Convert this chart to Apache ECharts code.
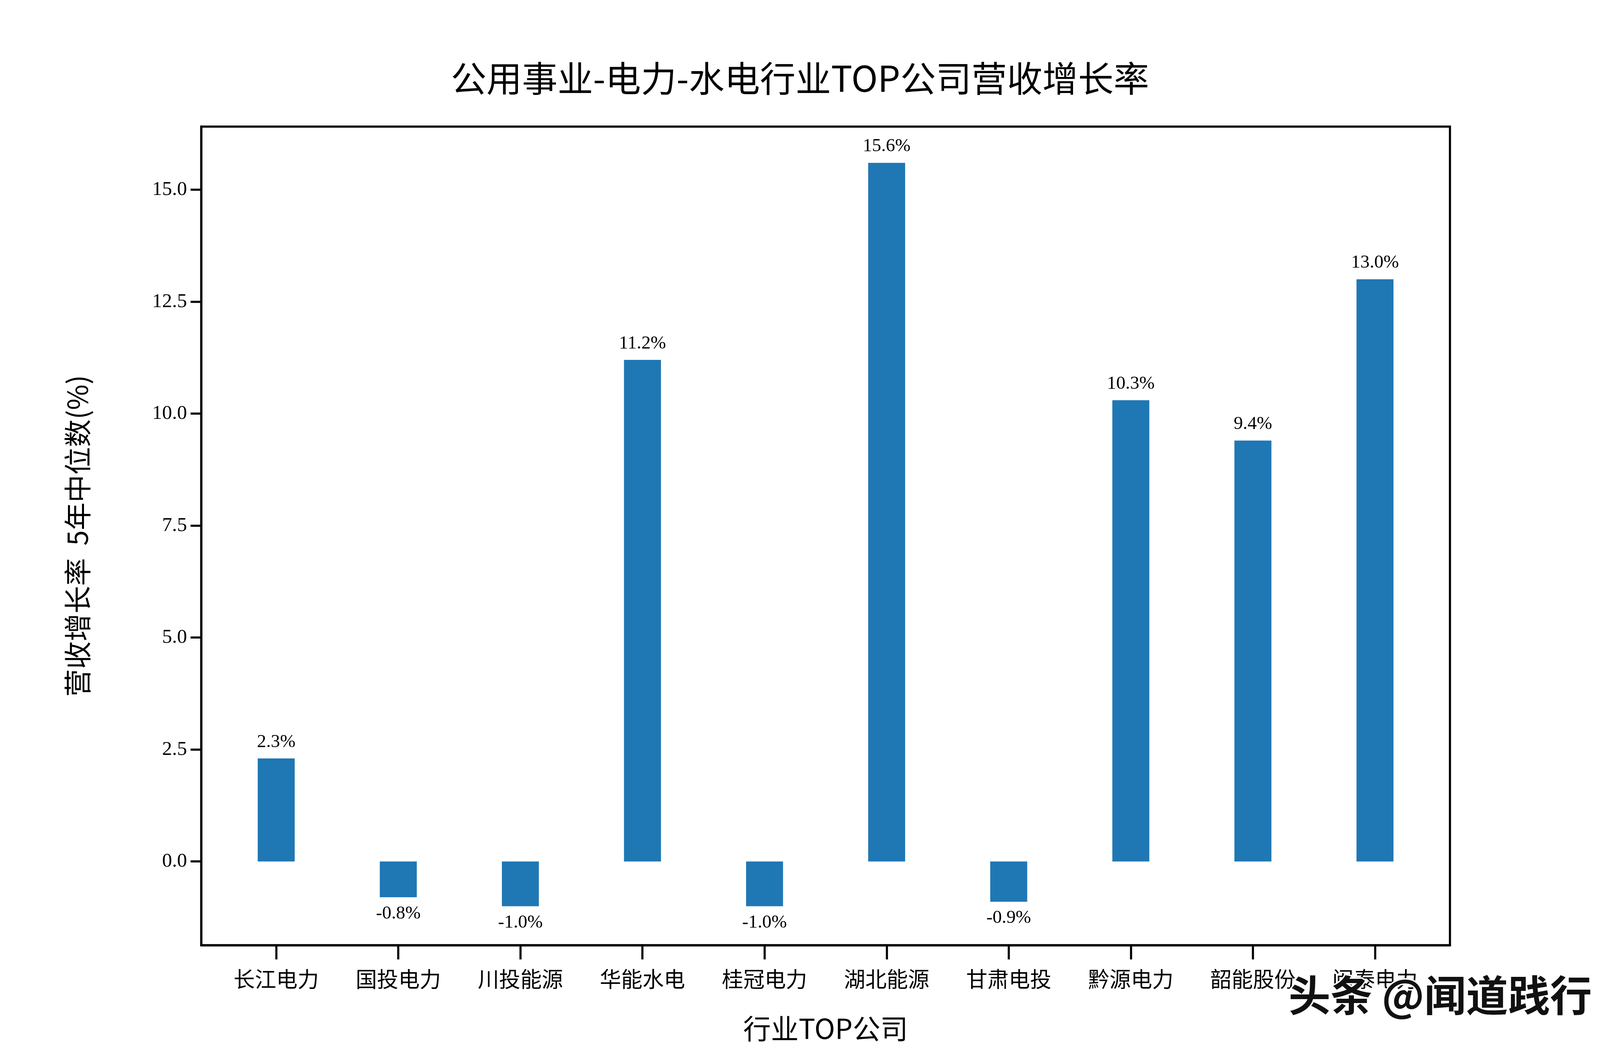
<!DOCTYPE html>
<html><head><meta charset="utf-8">
<script src="https://cdn.jsdelivr.net/npm/echarts@6/dist/echarts.min.js"></script>
<style>html,body{margin:0;padding:0;background:#fff;overflow:hidden}#c{width:100vw;height:100vh}</style>
</head><body><div id="c"></div>
<script>
var categories = ['长江电力','国投电力','川投能源','华能水电','桂冠电力','湖北能源','甘肃电投','黔源电力','韶能股份','闽泰电力'];
var values = [2.3, -0.8, -1.0, 11.2, -1.0, 15.6, -0.9, 10.3, 9.4, 13.0];
var yTicks = [0, 2.5, 5, 7.5, 10, 12.5, 15];

var chart = echarts.init(document.getElementById('c'));
var W = chart.getWidth(), H = chart.getHeight();
var sx = W / 4500, sy = H / 2700, s = Math.min(sx, sy);
var sfont = '"Liberation Serif","DejaVu Serif","Noto Sans CJK SC",serif';
var cfont = '"Noto Sans CJK SC",sans-serif';
var idx = categories.map(function(c, i){ return i; });
var gl = 566 * sx, gr = 4078 * sx, gt = 324 * sy, gb = 2419 * sy;
var lineSt = {color: '#000', width: 6 * s};

chart.setOption({
    animation: false,
    title: {
        text: '公用事业-电力-水电行业TOP公司营收增长率',
        left: 'center', top: 150 * sy,
        textStyle: {fontFamily: cfont, fontSize: 100 * s, fontWeight: 'normal', color: '#000'}
    },
    grid: {left: gl, right: W - gr, top: gt, bottom: H - gb},
    xAxis: {
        type: 'value', min: -0.614, max: 9.614,
        name: '行业TOP公司', nameLocation: 'middle', nameGap: 195 * s,
        nameTextStyle: {fontFamily: cfont, fontSize: 78 * s, color: '#000'},
        axisLine: {show: true, onZero: false, lineStyle: lineSt},
        axisTick: {show: true, length: 40 * s, lineStyle: lineSt, customValues: idx},
        axisLabel: {customValues: idx, margin: 65 * s, fontFamily: cfont, fontSize: 60 * s, color: '#000',
            formatter: function(v){ return categories[Math.round(v)]; }},
        splitLine: {show: false}
    },
    yAxis: {
        type: 'value', min: -1.87, max: 16.41,
        name: '营收增长率  5年中位数(%)', nameLocation: 'middle', nameGap: 310 * s,
        nameTextStyle: {fontFamily: cfont, fontSize: 78 * s, color: '#000'},
        axisLine: {show: true, onZero: false, lineStyle: lineSt},
        axisTick: {show: true, length: 30 * s, lineStyle: lineSt, customValues: yTicks},
        axisLabel: {customValues: yTicks, margin: 40 * s, fontFamily: sfont, fontSize: 56 * s, color: '#000',
            formatter: function(v){ return v.toFixed(1); }},
        splitLine: {show: false}
    },
    graphic: [
        {type: 'rect', shape: {x: gl, y: gt, width: gr - gl, height: gb - gt},
         style: {fill: null, stroke: '#000', lineWidth: 6 * s}, z: 10},
        {type: 'text', left: 3620 * sx, top: 2490 * sy, z: 20,
         style: {text: '头条 @闻道践行', fontFamily: cfont, fontSize: 118 * s, fontWeight: 'bold', fill: '#111',
                 stroke: '#fff', lineWidth: 8 * s}}
    ],
    series: [{
        type: 'bar', barWidth: 104 * sx,
        itemStyle: {color: '#1f77b4'},
        data: values.map(function(v, i){
            return {value: [i, v], label: {position: v < 0 ? 'bottom' : 'top'}};
        }),
        label: {
            show: true, fontFamily: sfont, fontSize: 52 * s, color: '#000', distance: 20 * s,
            formatter: function(p){ return p.value[1].toFixed(1) + '%'; }
        }
    }]
});
</script></body></html>
